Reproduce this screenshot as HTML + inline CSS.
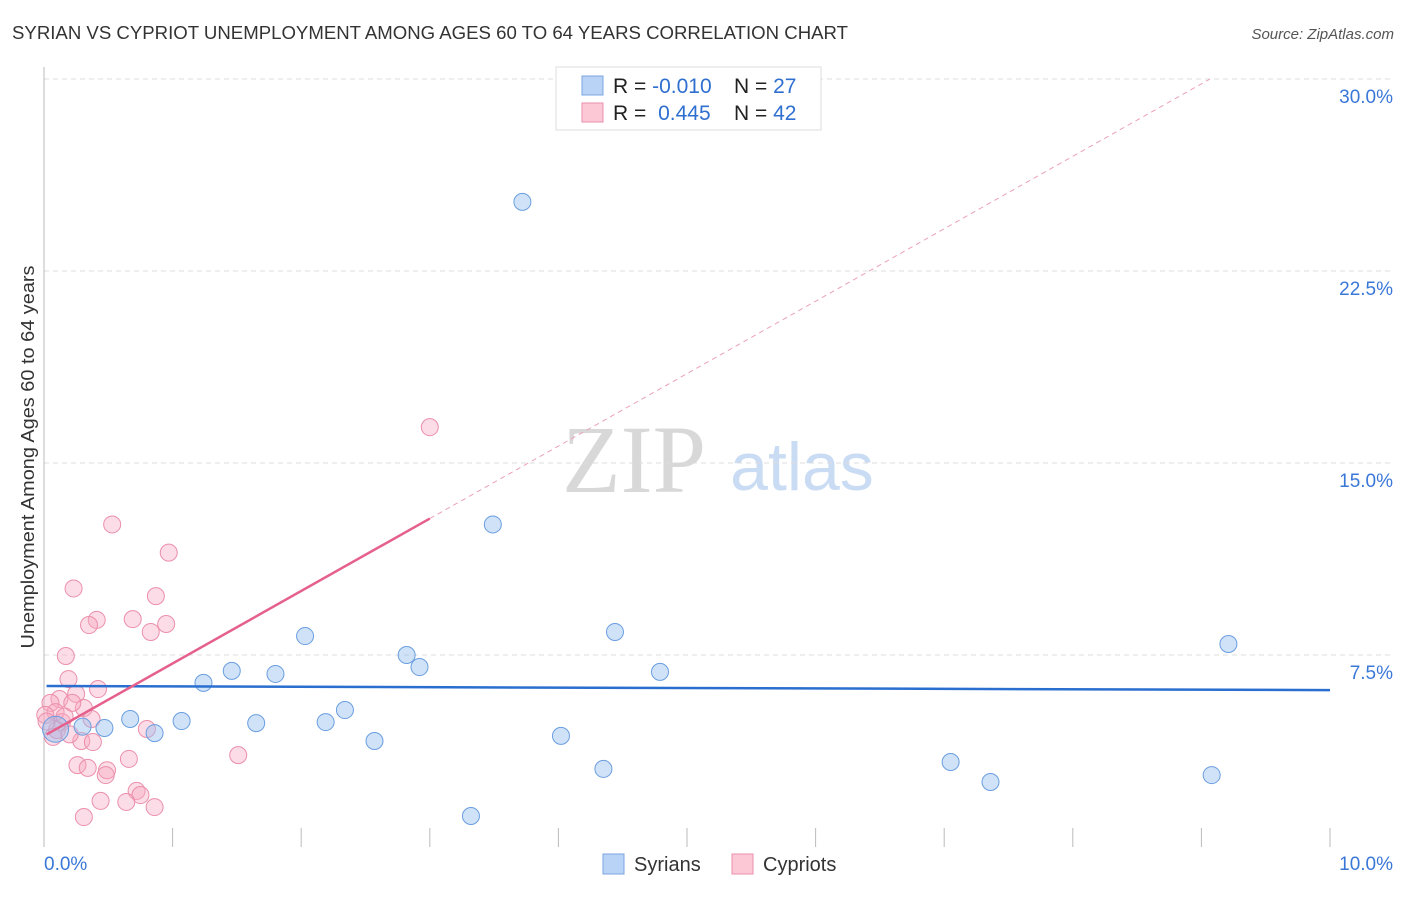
<!DOCTYPE html>
<html><head><meta charset="utf-8"><style>
body{margin:0;background:#fff;font-family:"Liberation Sans",sans-serif;}
</style></head><body>
<svg id="chart" width="1406" height="892" xmlns="http://www.w3.org/2000/svg" font-family="Liberation Sans, sans-serif">
<text x="12" y="39" font-size="18" fill="#333" textLength="836" lengthAdjust="spacingAndGlyphs">SYRIAN VS CYPRIOT UNEMPLOYMENT AMONG AGES 60 TO 64 YEARS CORRELATION CHART</text>
<text x="1394" y="39" font-size="15" fill="#555" text-anchor="end" font-style="italic">Source: ZipAtlas.com</text>
<text transform="translate(34,457) rotate(-90)" font-size="18" fill="#333" text-anchor="middle" textLength="383" lengthAdjust="spacingAndGlyphs">Unemployment Among Ages 60 to 64 years</text>
<g>
<text x="634" y="492" font-size="96" fill="#d8d8d8" style="font-family:'Liberation Serif',serif" text-anchor="middle">ZIP</text>
<text x="802" y="490" font-size="68" fill="#c9dcf3" text-anchor="middle">atlas</text>
</g>
<g id="grid"></g><g id="marks"></g>
<g>
<rect x="556" y="67" width="265" height="63" fill="#fff" stroke="#ddd"/>
<rect x="582" y="76" width="21" height="19" fill="#b8d3f5" stroke="#7aa6e0"/>
<rect x="582" y="103" width="21" height="19" fill="#fcc8d6" stroke="#eb8fab"/>
<text x="613" y="93" font-size="21" fill="#222">R = <tspan fill="#2f6fd0">-0.010</tspan></text>
<text x="734" y="93" font-size="21" fill="#222">N = <tspan fill="#2f6fd0">27</tspan></text>
<text x="613" y="120" font-size="21" fill="#222">R = <tspan fill="#2f6fd0" dx="6">0.445</tspan></text>
<text x="734" y="120" font-size="21" fill="#222">N = <tspan fill="#2f6fd0">42</tspan></text>
</g>
<g>
<rect x="603" y="854" width="21" height="20" fill="#b8d3f5" stroke="#7aa6e0"/>
<text x="634" y="871" font-size="20" fill="#333">Syrians</text>
<rect x="732" y="854" width="21" height="20" fill="#fcc8d6" stroke="#eb8fab"/>
<text x="763" y="871" font-size="20" fill="#333">Cypriots</text>
</g>
</svg>
<script>
const yTicks=[7.5,15,22.5,30];
const yTickLabels=["7.5%","15.0%","22.5%","30.0%"];
const syrX=[3.72,3.49,2.03,4.44,9.21,2.82,2.92,1.46,1.80,4.79,1.24,0.67,1.07,1.65,2.19,2.34,0.47,0.86,0.09,0.30,2.57,4.02,4.35,7.05,7.36,9.08,3.32];
const syrY=[25.2,12.6,8.24,8.40,7.93,7.5,7.03,6.88,6.76,6.84,6.41,5.0,4.92,4.84,4.88,5.35,4.65,4.45,4.6,4.7,4.14,4.34,3.05,3.32,2.54,2.81,1.21];
const cypX=[3.0,0.53,0.97,0.23,0.87,0.41,0.35,0.69,0.95,0.83,0.17,0.19,0.42,0.25,0.12,0.31,0.22,0.05,0.09,0.37,0.14,0.80,0.07,0.29,0.38,1.51,0.66,0.26,0.34,0.49,0.48,0.72,0.75,0.44,0.64,0.86,0.31,0.01,0.10,0.02,0.20,0.16];
const cypY=[16.4,12.6,11.5,10.1,9.8,8.87,8.67,8.9,8.71,8.4,7.46,6.56,6.17,5.98,5.78,5.43,5.63,5.63,5.27,5.0,4.88,4.61,4.30,4.14,4.1,3.59,3.44,3.2,3.09,3.0,2.81,2.19,2.03,1.80,1.76,1.56,1.17,5.16,4.57,4.9,4.4,5.1];
const syrTrend=[6.29,6.13];
const cypTrend=[4.34,2.83];
const sx=v=>44+v*128.6, sy=v=>847-v*25.6;
const NS="http://www.w3.org/2000/svg";
function mk(tag,attrs,parent){const e=document.createElementNS(NS,tag);for(const k in attrs)e.setAttribute(k,attrs[k]);parent.appendChild(e);return e;}
const grid=document.getElementById('grid'), marks=document.getElementById('marks');
yTicks.forEach((t,i)=>{
 const l=mk('line',{x1:44,x2:1393,y1:sy(t),y2:sy(t),stroke:'#ddd','stroke-dasharray':'5,4'},grid);
 
 
 const tx=mk('text',{x:1393,y:sy(t)+24,'font-size':19,fill:'#3a78d8','text-anchor':'end'},grid);
 tx.textContent=yTickLabels[i];
 
 
});
const ax=mk('line',{x1:44,x2:44,y1:67,y2:847,stroke:'#bbb'},grid);


for(let i=0;i<=10;i++){
 const t=mk('line',{x1:sx(i),x2:sx(i),y1:828,y2:847,stroke:'#bbb'},grid);
 
 
}
const xl=mk('text',{x:44,y:870,'font-size':19,fill:'#3a78d8'},grid);xl.textContent='0.0%';


const xr=mk('text',{x:1393,y:870,'font-size':19,fill:'#3a78d8','text-anchor':'end'},grid);xr.textContent='10.0%';


cypX.forEach((x,i)=>{
 const c=mk('circle',{cx:sx(x),cy:sy(cypY[i]),r:8.5,fill:'rgba(247,168,192,0.4)',stroke:'#eb8fab','stroke-width':1},marks);
 
 
});
syrX.forEach((x,i)=>{
 const c=mk('circle',{cx:sx(x),cy:sy(syrY[i]),r:i==18?13:8.5,fill:'rgba(150,190,240,0.45)',stroke:'#6a9ee0','stroke-width':1},marks);
 
 
});
const bl=mk('line',{x1:sx(0.02),y1:sy(syrTrend[0]),x2:sx(10),y2:sy(syrTrend[1]),stroke:'#2a6fcf','stroke-width':2.5},marks);


const xEnd=(30-cypTrend[0])/cypTrend[1];
const pd=mk('line',{x1:sx(3),y1:sy(cypTrend[0]+3*cypTrend[1]),x2:sx(xEnd),y2:sy(30),stroke:'#eba0b8','stroke-width':1,'stroke-dasharray':'5,4'},marks);


const pl=mk('line',{x1:sx(0.02),y1:sy(cypTrend[0]+0.02*cypTrend[1]),x2:sx(3),y2:sy(cypTrend[0]+3*cypTrend[1]),stroke:'#e5608c','stroke-width':2.5},marks);


</script>
</body></html>
